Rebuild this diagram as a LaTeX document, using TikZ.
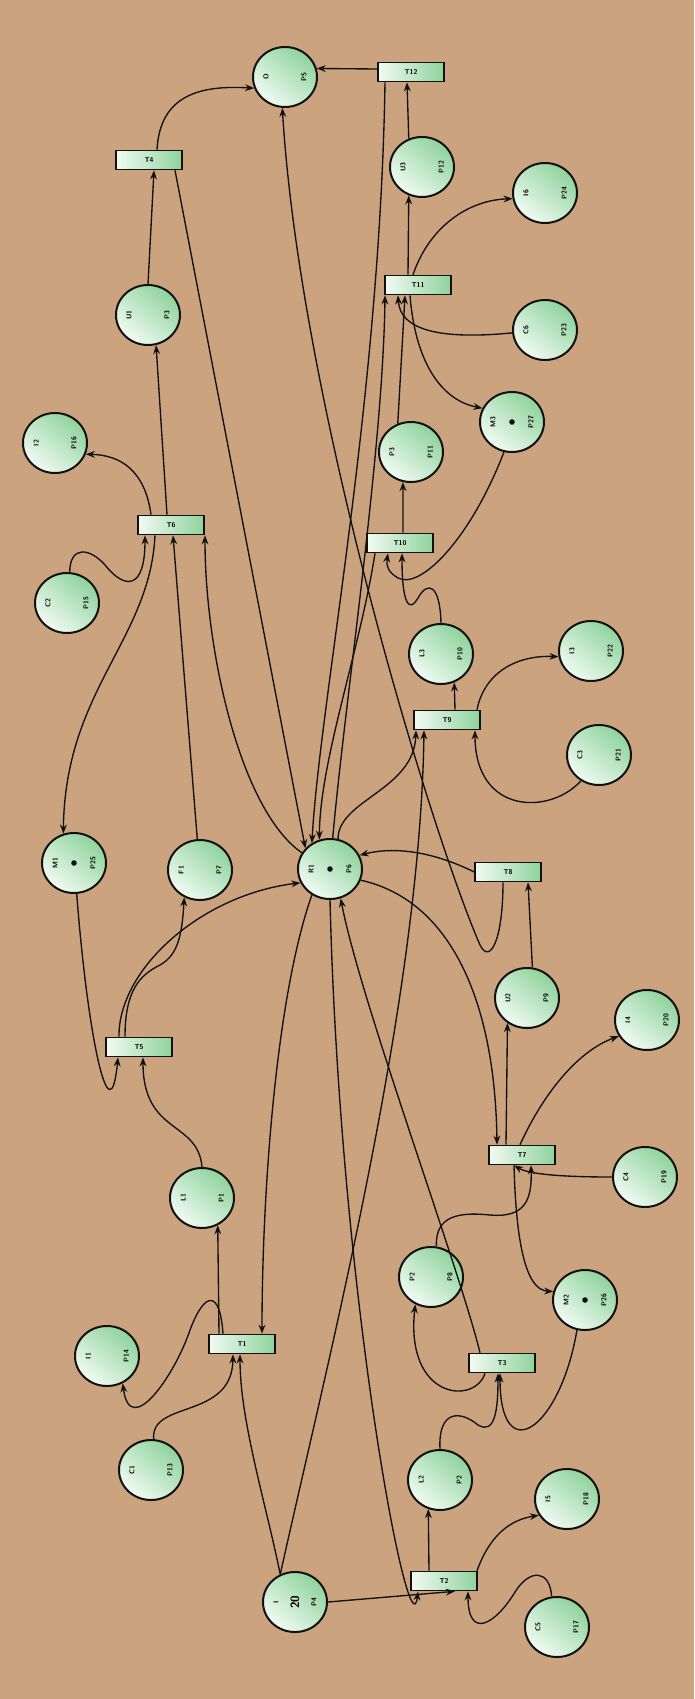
\documentclass[tikz,border=0pt]{standalone}
\usepackage{tikz}
\usetikzlibrary{arrows.meta,shapes.geometric,calc}
\definecolor{paperTan}{HTML}{CBA47F}
\definecolor{placeGreen}{HTML}{8FD39C}
\definecolor{placeLight}{HTML}{F1FBF3}
\definecolor{inkBlack}{HTML}{111111}

\begin{document}
\begin{tikzpicture}[
  x=1pt, y=-1pt,
  font=\sffamily\bfseries,
  >=Stealth,
  place/.style={ellipse, draw=inkBlack, line width=2pt, minimum width=64pt, minimum height=60pt,
    inner sep=0pt, top color=placeGreen, bottom color=placeLight, shading angle=-40},
  trans/.style={rectangle, draw=inkBlack, line width=1.6pt, minimum width=66pt, minimum height=19pt,
    inner sep=0pt, left color=placeLight, right color=placeGreen, font=\sffamily\bfseries\fontsize{7}{8}\selectfont},
  ptext/.style={rotate=90, inner sep=0pt, font=\sffamily\bfseries\fontsize{7}{8}\selectfont},
  arc/.style={->, line width=1.35pt, draw=inkBlack}
]

  % Paper background
  \fill[paperTan] (0,0) rectangle (694,1699);
  \useasboundingbox (0,0) rectangle (694,1699);

  % Places (name / id)
  \foreach \n/\x/\y/\a/\b in {
    pO/285/77/O/P5, pU3/422/167/U3/P12, pI6/545/193/I6/P24, pU1/148/315/U1/P3,
    pC6/545/330/C6/P23, pM3/512/422/M3/P27, pP3/411/452/P3/P11, pI2/55/443/I2/P16,
    pC2/67/603/C2/P15, pL3/441/654/L3/P10, pI3/591/651/I3/P22, pC3/599/755/C3/P21,
    pM1/74/863/M1/P25, pF1/200/870/F1/P7, pR1/330/869/R1/P6, pU2/527/998/U2/P9,
    pI4/647/1020/I4/P20, pC4/645/1177/C4/P19, pL1/202/1198/L1/P1, pP2/431/1277/P2/P8,
    pM2/585/1300/M2/P26, pI1/107/1356/I1/P14, pC1/151/1470/C1/P13, pL2/440/1480/L2/P2,
    pI5/567/1499/I5/P18, pI/295/1602/I/P4, pC5/557/1627/C5/P17} {
    \node[place] (\n) at (\x,\y) {};
    \node[ptext] at ([xshift=-19pt]\n.center) {\a};
    \node[ptext] at ([xshift=19pt]\n.center) {\b};
  }

  % Tokens
  \foreach \n in {pM1,pM2,pM3,pR1}
    \fill[inkBlack] (\n.center) circle (2.8pt);
  \node[rotate=90, inner sep=0pt, font=\sffamily\bfseries\fontsize{12}{13}\selectfont] at (pI.center) {20};

  % Transitions
  \foreach \n/\x/\y in {T1/242/1344, T2/444/1581, T3/502/1363, T4/149/160, T5/139/1047,
    T6/171/525, T7/522/1155, T8/508/872, T9/447/720, T10/400/543, T11/418/285, T12/411/72}
    \node[trans] (\n) at (\x,\y) {\n};

  % ---------------- first line (T1, T5, T6, T4)
  \draw[arc] (pI.118) .. controls (265,1500) and (240,1420) .. ([xshift=-2pt]T1.south);
  \draw[arc] (pC1.85) .. controls (150,1400) and (232,1420) .. ([xshift=-9pt]T1.south);
  \draw[arc] (pR1.235) .. controls (275,1000) and (262,1200) .. ([xshift=20pt]T1.north);
  \draw[arc] ([xshift=-23pt]T1.north) -- (pL1.-60);
  \draw[arc] ([xshift=-19pt]T1.north) .. controls (220,1290) and (205,1290) .. (190,1330)
    .. controls (175,1375) and (130,1440) .. (pI1.-60);
  \draw[arc] (pL1.north) .. controls (198,1120) and (143,1135) .. ([xshift=4pt]T5.south);
  \draw[arc] (pM1.-85) .. controls (88,1040) and (110,1140) .. ([xshift=-21pt]T5.south);
  \draw[arc] ([xshift=-14pt]T5.north) .. controls (125,990) and (140,975) .. (160,965)
    .. controls (178,955) and (182,935) .. (pF1.-120);
  \draw[arc] ([xshift=-20pt]T5.north) .. controls (118,970) and (200,895) .. (pR1.205);
  \draw[arc] (pF1.95) -- ([xshift=2pt]T6.south);
  \draw[arc] (pR1.150) .. controls (240,810) and (205,650) .. ([xshift=34pt]T6.south);
  \draw[arc] (pC2.85) .. controls (70,545) and (90,548) .. (105,565)
    .. controls (125,590) and (145,590) .. ([xshift=-26pt]T6.south);
  \draw[arc] ([xshift=-16pt]T6.south) .. controls (150,640) and (65,690) .. (pM1.110);
  \draw[arc] ([xshift=-20pt]T6.north) .. controls (145,470) and (120,455) .. (pI2.-20);
  \draw[arc] ([xshift=-4pt]T6.north) -- (pU1.-75);
  \draw[arc] (pU1.north) -- ([xshift=5pt]T4.south);
  \draw[arc] ([xshift=8pt]T4.north) .. controls (160,95) and (200,85) .. (pO.200);
  \draw[arc] ([xshift=26pt]T4.south) -- (pR1.140);

  % ---------------- second line (T2, T3, T7, T8)
  \draw[arc] (pI.east) -- ([xshift=11pt]T2.south);
  \draw[arc] (pR1.-90) .. controls (340,1300) and (410,1660) .. ([xshift=-26pt]T2.south);
  \draw[arc] (pC5.100) .. controls (550,1570) and (530,1568) .. (515,1592)
    .. controls (495,1625) and (468,1640) .. ([xshift=24pt]T2.south);
  \draw[arc] ([xshift=-15pt]T2.north) -- (pL2.-112);
  \draw[arc] ([xshift=33pt]T2.north) .. controls (490,1535) and (510,1520) .. (pI5.210);
  \draw[arc] (pL2.north) .. controls (438,1410) and (460,1410) .. (478,1425)
    .. controls (495,1435) and (498,1410) .. ([xshift=-4pt]T3.south);
  \draw[arc] (pM2.-105) .. controls (560,1430) and (500,1470) .. ([xshift=-2pt]T3.south);
  \draw[arc] ([xshift=-17pt]T3.south) .. controls (475,1405) and (405,1400) .. (pP2.-120);
  \draw[arc] ([xshift=-22pt]T3.north) .. controls (460,1270) and (360,1000) .. (pR1.-70);
  \draw[arc] (pP2.80) .. controls (435,1215) and (460,1212) .. (490,1215)
    .. controls (525,1218) and (532,1200) .. ([xshift=9pt]T7.south);
  \draw[arc] (pC4.west) .. controls (570,1177) and (530,1175) .. ([xshift=-8pt]T7.south);
  \draw[arc] ([xshift=-8pt]T7.south) .. controls (516,1240) and (525,1290) .. (pM2.165);
  \draw[arc] (pR1.-20) .. controls (450,900) and (495,1000) .. ([xshift=-25pt]T7.north);
  \draw[arc] ([xshift=-16pt]T7.north) -- (pU2.-128);
  \draw[arc] ([xshift=-2pt]T7.north) .. controls (545,1090) and (580,1050) .. (pI4.210);
  \draw[arc] (pU2.80) -- ([xshift=20pt]T8.south);
  \draw[arc] (T8.west) .. controls (440,855) and (400,845) .. (pR1.25);
  \draw[arc] ([xshift=-5pt]T8.south) .. controls (503,940) and (490,965) .. (480,945)
    .. controls (430,830) and (300,400) .. (pO.-95);

  % ---------------- third line (T9, T10, T11, T12)
  \draw[arc] (pI.118) .. controls (330,1350) and (420,1000) .. ([xshift=-23pt]T9.south);
  \draw[arc] (pR1.75) .. controls (338,800) and (414,790) .. ([xshift=-31pt]T9.south);
  \draw[arc] (pC3.-125) .. controls (550,815) and (475,815) .. ([xshift=28pt]T9.south);
  \draw[arc] ([xshift=8pt]T9.north) -- (pL3.-65);
  \draw[arc] ([xshift=30pt]T9.north) .. controls (485,670) and (520,655) .. (pI3.190);
  \draw[arc] (pL3.north) .. controls (440,585) and (428,580) .. (418,598)
    .. controls (408,615) and (402,600) .. ([xshift=2pt]T10.south);
  \draw[arc] (pM3.-105) .. controls (470,540) and (420,590) .. (398,578)
    .. controls (388,572) and (386,566) .. ([xshift=-12pt]T10.south);
  \draw[arc] ([xshift=3pt]T10.north) -- (pP3.-105);
  \draw[arc] ([xshift=-25pt]T10.south) .. controls (360,650) and (320,760) .. (pR1.110);
  \draw[arc] (pP3.115) -- ([xshift=-13pt]T11.south);
  \draw[arc] (pR1.85) .. controls (345,700) and (383,450) .. ([xshift=-33pt]T11.south);
  \draw[arc] (pC6.185) .. controls (440,340) and (400,330) .. ([xshift=-20pt]T11.south);
  \draw[arc] ([xshift=-8pt]T11.south) .. controls (415,360) and (440,400) .. (pM3.155);
  \draw[arc] ([xshift=-10pt]T11.north) -- (pU3.-115);
  \draw[arc] ([xshift=-5pt]T11.north) .. controls (430,225) and (470,200) .. (pI6.190);
  \draw[arc] (pU3.115) -- ([xshift=-4pt]T12.south);
  \draw[arc] ([yshift=3pt]T12.west) -- (pO.15);
  \draw[arc] ([xshift=-26pt]T12.south) .. controls (380,400) and (320,700) .. (pR1.125);

\end{tikzpicture}
\end{document}
